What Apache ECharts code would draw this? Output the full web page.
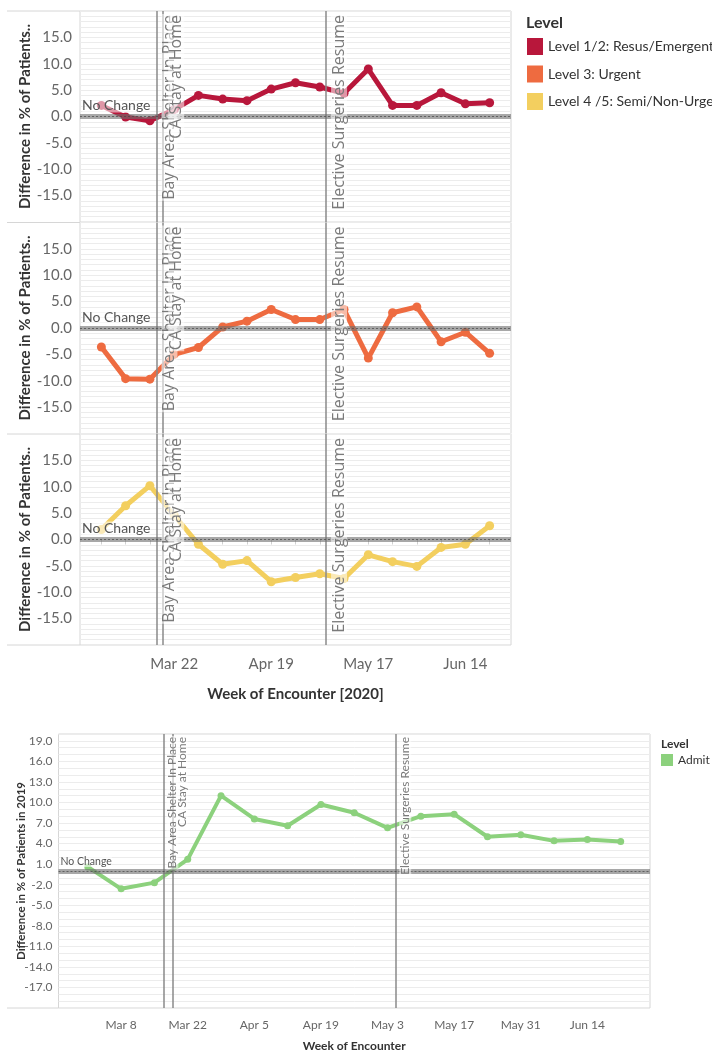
<!DOCTYPE html>
<html>
<head>
<meta charset="utf-8">
<script src="https://cdn.jsdelivr.net/npm/echarts@6/dist/echarts.min.js"></script>
<style>
html,body{margin:0;padding:0;background:#fff;}
#chart{width:712px;height:1053px;}
</style>
</head>
<body>
<div id="chart"></div>
<script>
// weeks of encounter in 2020, index 0 = week of Mar 1
var weeks = ['Mar 1','Mar 8','Mar 15','Mar 22','Mar 29','Apr 5','Apr 12','Apr 19','Apr 26','May 3','May 10','May 17','May 24','May 31','Jun 7','Jun 14','Jun 21'];
var levels = ['Level 1/2: Resus/Emergent','Level 3: Urgent','Level 4 /5: Semi/Non-Urgent'];
var level12 = [2.1,-0.1,-0.8,1.3,4.0,3.3,3.0,5.2,6.4,5.6,4.4,9.0,2.1,2.1,4.5,2.4,2.6];
var level3 = [-3.6,-9.6,-9.7,-5.0,-3.7,0.2,1.3,3.5,1.6,1.6,3.5,-5.7,2.9,4.0,-2.6,-0.8,-4.8];
var level45 = [1.9,6.4,10.2,4.6,-0.9,-4.7,-4.0,-8.0,-7.2,-6.5,-7.4,-2.9,-4.2,-5.1,-1.5,-0.9,2.6];
var admitName = 'Admit';
var admit = [0.6,-2.6,-1.7,1.7,11.0,7.6,6.6,9.7,8.5,6.3,8.0,8.3,5.0,5.3,4.4,4.6,4.3];
// reference lines, in weeks after Mar 1
var events = ['Bay Area Shelter In Place','CA Stay at Home','Elective Surgeries Resume'];
var eventWeeks = [2.27,2.55,9.26];
var topTickLabels = ['Mar 22','Apr 19','May 17','Jun 14'];
var topYTicks = [-15,-10,-5,0,5,10,15];
var bottomTickLabels = ['Mar 8','Mar 22','Apr 5','Apr 19','May 3','May 17','May 31','Jun 14'];
var bottomYTicks = [-17,-14,-11,-8,-5,-2,1,4,7,10,13,16,19];

var font = 'Lato';
var colors = ['#B8173B','#EE6B40','#F3CF5F'];
var admitColor = '#8CD17D';
var levelData = [level12, level3, level45];

function pairs(vals){
    return vals.map(function(v,i){ return [i,v]; });
}

function refLines(evFont, evSize, ncSize, distance){
    var lines = [];
    events.forEach(function(e,i){
        lines.push({
            xAxis: eventWeeks[i],
            lineStyle:{color:'#8a8a8a',width:1.5,type:'solid'},
            label:{formatter:e,position:'insideEndBottom',distance:distance,
                color:'#7a7a7a',fontFamily:evFont,fontSize:evSize,
                backgroundColor:'rgba(255,255,255,0.55)',padding:[0,1]}
        });
    });
    lines.push({
        yAxis:0,
        lineStyle:{color:'rgba(110,110,110,0.6)',width:5,type:'solid'},
        label:{formatter:'No Change',position:'insideStartTop',distance:[2,4],
            color:'#555',fontFamily:font,fontSize:ncSize,
            backgroundColor:'rgba(255,255,255,0.55)'}
    });
    lines.push({
        yAxis:0,
        lineStyle:{color:'rgba(70,70,70,0.7)',width:1,type:[2,2]},
        label:{show:false}
    });
    return lines;
}

var weekIdx = weeks.map(function(w,k){ return k; });
var panelTop = [11,222.5,434];
var grids = [], xAxes = [], yAxes = [], series = [];

panelTop.forEach(function(t,i){
    grids.push({left:80,width:431,top:t,height:211,show:true,borderColor:'#d6d6d6',borderWidth:1,outerBoundsMode:'none'});
    xAxes.push({
        type:'value',gridIndex:i,min:-0.88,max:16.88,
        axisLine:{show:false},splitLine:{show:false},
        axisTick:{show:i===2,customValues:weekIdx,length:5,lineStyle:{color:'#d0d0d0'}},
        axisLabel:{show:i===2,customValues:topTickLabels.map(function(l){return weeks.indexOf(l);}),
            formatter:function(v){return weeks[Math.round(v)];},
            color:'#666',fontFamily:font,fontSize:15,margin:12},
        name:i===2?'Week of Encounter [2020]':'',nameLocation:'middle',nameGap:42,nameMoveOverlap:false,
        nameTextStyle:{color:'#333',fontFamily:font,fontSize:15,fontWeight:'bold'}
    });
    yAxes.push({
        type:'value',gridIndex:i,min:-20,max:20,interval:1,
        axisLine:{show:false},axisTick:{show:false},
        axisLabel:{customValues:topYTicks,formatter:function(v){return v.toFixed(1);},
            color:'#666',fontFamily:font,fontSize:15,margin:8},
        splitLine:{lineStyle:{color:'#ececec',width:1}},
        name:'Difference in % of Patients..',nameLocation:'middle',nameRotate:90,nameGap:47,nameMoveOverlap:false,
        nameTextStyle:{color:'#333',fontFamily:font,fontSize:15,fontWeight:'bold'}
    });
    series.push({
        name:levels[i],type:'line',xAxisIndex:i,yAxisIndex:i,
        data:pairs(levelData[i]),
        color:colors[i],
        lineStyle:{width:5},symbol:'circle',symbolSize:9,
        itemStyle:{color:colors[i]},
        z:2,
        markLine:{symbol:'none',silent:true,z:5,data:refLines('Open Sans',16,14,[3,5])}
    });
});

// lower chart: admits
grids.push({left:58.5,right:62,top:734,height:274,show:true,borderColor:'#d6d6d6',borderWidth:1,outerBoundsMode:'none'});
xAxes.push({
    type:'value',gridIndex:3,min:-0.88,max:16.88,
    axisLine:{show:false},splitLine:{show:false},axisTick:{show:false},
    axisLabel:{customValues:bottomTickLabels.map(function(l){return weeks.indexOf(l);}),
        formatter:function(v){return weeks[Math.round(v)];},
        color:'#666',fontFamily:font,fontSize:12,margin:11},
    name:'Week of Encounter',nameLocation:'middle',nameGap:32,nameMoveOverlap:false,
    nameTextStyle:{color:'#333',fontFamily:font,fontSize:12,fontWeight:'bold'}
});
yAxes.push({
    type:'value',gridIndex:3,min:-20,max:20,interval:1,
    axisLine:{show:false},axisTick:{show:false},
    axisLabel:{customValues:bottomYTicks,formatter:function(v){return v.toFixed(1);},
        color:'#666',fontFamily:font,fontSize:12,margin:6},
    splitLine:{lineStyle:{color:'#ececec',width:1}},
    name:'Difference in % of Patients in 2019',nameLocation:'middle',nameRotate:90,nameGap:31,nameMoveOverlap:false,
    nameTextStyle:{color:'#333',fontFamily:font,fontSize:11.5,fontWeight:'bold'}
});
series.push({
    name:admitName,type:'line',xAxisIndex:3,yAxisIndex:3,
    data:pairs(admit),color:admitColor,
    lineStyle:{width:4},symbol:'circle',symbolSize:7,
    itemStyle:{color:admitColor},z:2,
    markLine:{symbol:'none',silent:true,z:5,data:refLines(font,12,10.5,[2,3])}
});

// panel separators that run under the y labels
var sepLines = [11,222.5,434,645].map(function(y){
    return {type:'line',shape:{x1:7,y1:y,x2:80,y2:y},style:{stroke:'#d6d6d6',lineWidth:1}};
});
sepLines.push({type:'line',shape:{x1:7,y1:1008,x2:58.5,y2:1008},style:{stroke:'#d6d6d6',lineWidth:1}});

var chart = echarts.init(document.getElementById('chart'));
chart.setOption({
    animation:false,
    textStyle:{fontFamily:font},
    title:[
        {text:'Level',left:526,top:15,padding:0,textStyle:{fontFamily:font,fontSize:16,fontWeight:'bold',color:'#333'}},
        {text:'Level',left:661,top:738,padding:0,textStyle:{fontFamily:font,fontSize:12,fontWeight:'bold',color:'#333'}}
    ],
    legend:[
        {data:levels,orient:'vertical',left:527,top:38,padding:0,icon:'rect',itemWidth:16,itemHeight:17,itemGap:10.5,
            textStyle:{fontFamily:font,fontSize:14,color:'#333'}},
        {data:[admitName],orient:'vertical',left:661,top:754,padding:0,icon:'rect',itemWidth:12,itemHeight:12,
            textStyle:{fontFamily:font,fontSize:12,color:'#333'}}
    ],
    grid:grids,
    xAxis:xAxes,
    yAxis:yAxes,
    series:series,
    graphic:sepLines
});
</script>
</body>
</html>
